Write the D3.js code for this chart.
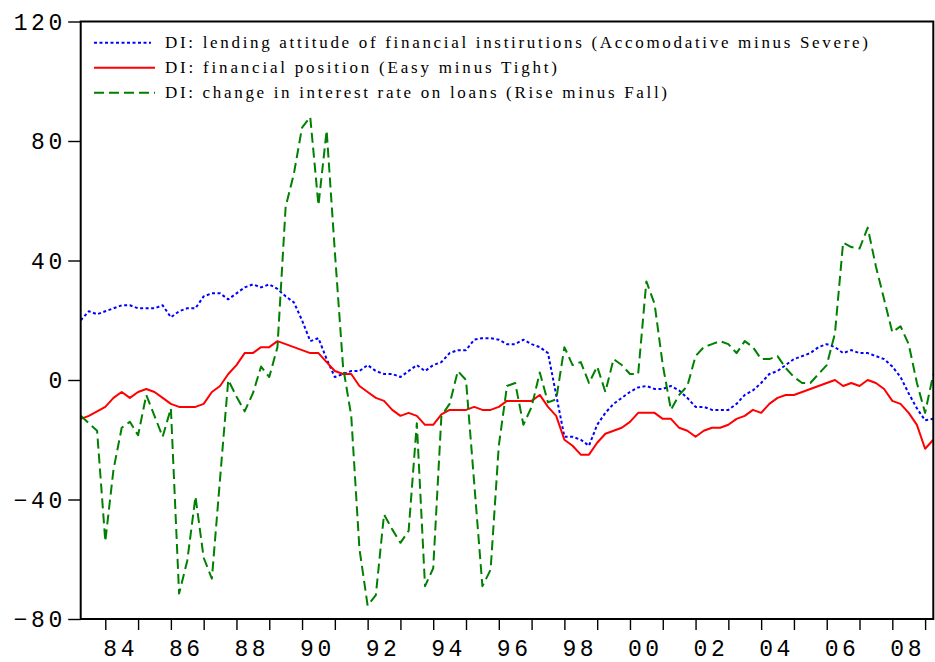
<!DOCTYPE html>
<html>
<head>
<meta charset="utf-8">
<script src="https://cdn.jsdelivr.net/npm/d3@7"></script>
<style>
  html, body { margin: 0; padding: 0; background: #fff; }
  svg { display: block; }
</style>
</head>
<body>
<div id="chart"></div>
<script>
// quarterly series, first observation 1983Q2
const startYear = 1983.25

// DI: lending attitude of financial institutions
const lending = [
  20, 23, 22, 23, 24, 25, 25, 24, 24, 24,
  25, 21, 23, 24, 24, 28, 29, 29, 27, 29,
  31, 32, 31, 32, 30.5, 28, 26, 20, 13, 14,
  7, 1, 2, 3, 3, 5, 3, 2, 2, 1,
  3, 5, 3, 5, 6, 9, 10, 10, 13.5, 14,
  14, 13.5, 12, 12, 13.5, 12, 11, 9, -5, -19,
  -19, -20, -22, -15, -11, -8, -6, -4, -2.5, -2,
  -3, -3, -2, -3.5, -6, -9, -9, -10, -10, -10,
  -8, -5, -3.5, -1, 2, 3, 5, 7, 8, 9,
  11, 12, 11, 9, 10, 9, 9, 8, 7, 4.5,
  1, -4.5, -9.5, -13.5, -13
]

// DI: financial position
const finpos = [
  -13, -12, -10.5, -9, -6, -4, -6, -4, -3, -4,
  -6, -8, -9, -9, -9, -8, -4, -2, 2, 5,
  9, 9, 11, 11, 13, 12, 11, 10, 9, 9,
  6, 3, 2, 2, -2, -4, -6, -7, -10, -12,
  -11, -12, -15, -15, -11.5, -10, -10, -10, -9, -10,
  -10, -9, -7, -7, -7, -7, -5, -9, -12, -20,
  -22, -25, -25, -21, -18, -17, -16, -14, -11, -11,
  -11, -13, -13, -16, -17, -19, -17, -16, -16, -15,
  -13, -12, -10, -11, -8, -6, -5, -5, -4, -3,
  -2, -1, 0, -2, -1, -2, 0, -1, -3, -7,
  -8, -11, -15, -23, -20
]

// DI: change in interest rate on loans
const rates = [
  -12, -14.5, -17, -54, -30, -16, -14, -18.5, -5, -12,
  -19, -9.5, -71.5, -60.5, -39, -59.5, -66.5, -33, 0, -5.5,
  -10.5, -4.5, 4.5, 1, 11, 58, 69, 84.5, 88, 58.5,
  83.5, 43, 4.5, -12, -56.5, -75.5, -72, -45, -50, -54.5,
  -50.5, -14.5, -69, -63, -12, -8, 3, 0, -34.5, -69,
  -63.5, -22, -2, -1, -15, -9, 2.5, -7.5, -6.5, 11,
  5, 6, -1, 4.5, -4, 7, 5, 2, 2, 33,
  25.5, 5, -10, -5, -2, 8, 11, 12, 13, 12,
  9, 13, 11, 7, 7, 8, 4, 1, -1, -1,
  2, 5, 15.5, 46, 44.5, 44, 51, 38, 27, 16,
  18, 12, -1, -11, 2
]

const tickYears = d3.range(1984, 2010)
const yTicks = [-80, -40, 0, 40, 80, 120]
const legendLabels = [
  "DI: lending attitude of financial instirutions (Accomodative minus Severe)",
  "DI: financial position (Easy minus Tight)",
  "DI: change in interest rate on loans (Rise minus Fall)"
]

const width = 935
const height = 662
const margin = {top: 21.5, right: 1.7, bottom: 43, left: 80.7}

const series = [
  {values: lending, color: "#0000ff", dash: "3,2.5", legendW: 703},
  {values: finpos, color: "#ff0000", dash: null, legendW: 392},
  {values: rates, color: "#008000", dash: "10,5", legendW: 502}
]

const svg = d3.select("#chart").append("svg")
    .attr("width", width)
    .attr("height", height)

const x = d3.scaleLinear()
    .domain([startYear, startYear + (lending.length - 1) / 4])
    .range([margin.left, width - margin.right])

const y = d3.scaleLinear()
    .domain([-80, 120])
    .range([height - margin.bottom, margin.top])

const numFont = "'Liberation Mono', 'DejaVu Sans Mono', monospace"
const ls = 3.5

// x axis: a tick at the start of every year, label on even years
const xAxis = svg.append("g")
    .attr("transform", `translate(0,${y(-80)})`)
    .call(d3.axisBottom(x)
        .tickValues(tickYears)
        .tickSize(11)
        .tickPadding(10)
        .tickFormat(d => d % 2 === 0 ? String(d).slice(2) : ""))
xAxis.select(".domain").remove()
xAxis.selectAll(".tick line").attr("stroke", "#000").attr("stroke-width", 1.4)
xAxis.selectAll(".tick text")
    .attr("x", x(1984.4) - x(1984) + ls / 2)
    .attr("y", 37)
    .attr("dy", 0)
    .attr("fill", "#000")
    .style("font-family", numFont)
    .style("font-size", "23px")
    .style("letter-spacing", ls + "px")

// y axis
const yAxis = svg.append("g")
    .attr("transform", `translate(${margin.left},0)`)
    .call(d3.axisLeft(y)
        .tickValues(yTicks)
        .tickSize(12.5)
        .tickPadding(6))
yAxis.select(".domain").remove()
yAxis.selectAll(".tick line").attr("stroke", "#000").attr("stroke-width", 1.4)
yAxis.selectAll(".tick text")
    .attr("x", -18.5 + ls)
    .attr("dy", "0.33em")
    .attr("fill", "#000")
    .style("font-family", numFont)
    .style("font-size", "23px")
    .style("letter-spacing", ls + "px")

// lines
const line = d3.line()
    .x((d, i) => x(startYear + i / 4))
    .y(d => y(d))

svg.append("g")
    .attr("fill", "none")
    .selectAll("path")
    .data(series)
    .join("path")
    .attr("d", d => line(d.values))
    .attr("stroke", d => d.color)
    .attr("stroke-width", 2)
    .attr("stroke-dasharray", d => d.dash)
    .attr("stroke-linejoin", "round")

// frame
svg.append("rect")
    .attr("x", margin.left)
    .attr("y", margin.top)
    .attr("width", width - margin.left - margin.right)
    .attr("height", y(-80) - margin.top)
    .attr("fill", "none")
    .attr("stroke", "#000")
    .attr("stroke-width", 2)

// legend
const legend = svg.append("g")
    .selectAll("g")
    .data(series)
    .join("g")
    .attr("transform", (d, i) => `translate(0,${42.7 + i * 25})`)

legend.append("line")
    .attr("x1", 94)
    .attr("x2", (d, i) => i === 0 ? 151 : 155)
    .attr("stroke", d => d.color)
    .attr("stroke-width", 2)
    .attr("stroke-dasharray", d => d.dash)

legend.append("text")
    .attr("x", 165)
    .attr("y", 5)
    .attr("textLength", d => d.legendW)
    .attr("lengthAdjust", "spacing")
    .style("font-family", "'Liberation Serif', 'Times New Roman', serif")
    .style("font-size", "17px")
    .attr("fill", "#000")
    .text((d, i) => legendLabels[i])
</script>
</body>
</html>
